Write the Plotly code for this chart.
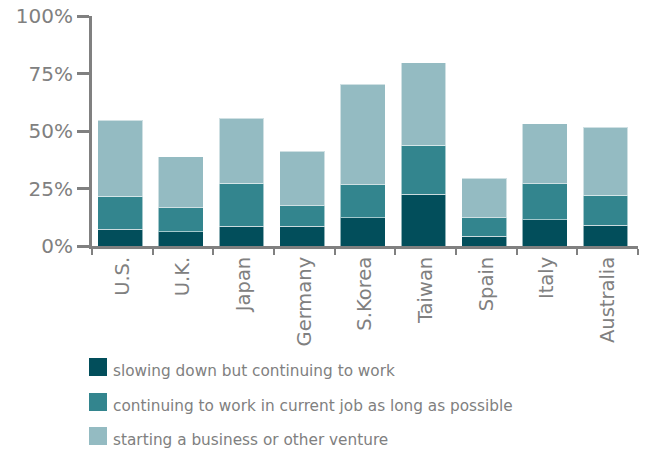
import plotly.graph_objects as go

# Survey results: how people plan to spend their retirement years
countries = ["U.S.", "U.K.", "Japan", "Germany", "S.Korea", "Taiwan", "Spain", "Italy", "Australia"]

slowing_down = [7.3, 6.1, 8.6, 8.6, 12.3, 22.5, 4.3, 11.5, 9.0]
current_job = [14.3, 10.6, 18.7, 8.8, 14.4, 21.4, 7.9, 15.6, 13.0]
new_venture = [33.0, 22.2, 28.2, 23.8, 43.6, 35.8, 17.2, 26.1, 29.6]

series_names = [
    "slowing down but continuing to work",
    "continuing to work in current job as long as possible",
    "starting a business or other venture",
]
series_values = [slowing_down, current_job, new_venture]
series_colors = ["#024e5b", "#33858e", "#94bbc2"]

y_ticks = [0, 25, 50, 75, 100]
y_tick_text = ["0%", "25%", "50%", "75%", "100%"]

W, H = 651, 453
M_L, M_R, M_T, M_B = 92, 13, 16, 207
FONT = "DejaVu Sans"
GREY = "#808080"

fig = go.Figure()
for name, vals, col in zip(series_names, series_values, series_colors):
    fig.add_trace(go.Bar(
        x=countries, y=vals, name=name, showlegend=False,
        width=0.74, offset=-0.405,
        marker=dict(color=col, line=dict(color="rgba(255,255,255,0.55)", width=1)),
    ))

# Hand-built legend below the plot (pixel positions converted to paper units)
plot_w = W - M_L - M_R
plot_h = H - M_T - M_B
def px(x):
    return (x - M_L) / plot_w
def py(y):
    return (H - M_B - y) / plot_h

shapes = []
annotations = []
legend_tops = [358, 393, 427]
for name, col, top in zip(series_names, series_colors, legend_tops):
    shapes.append(dict(type="rect", xref="paper", yref="paper",
                       x0=px(89), x1=px(107), y0=py(top), y1=py(top + 18),
                       fillcolor=col, line=dict(width=0)))
    annotations.append(dict(xref="paper", yref="paper", x=px(111), y=py(top + 13),
                            xanchor="left", yanchor="middle", showarrow=False,
                            text=name, font=dict(family=FONT, size=15.3, color=GREY)))

fig.update_layout(
    width=W, height=H,
    margin=dict(l=M_L, r=M_R, t=M_T, b=M_B),
    paper_bgcolor="white", plot_bgcolor="white",
    barmode="stack",
    font=dict(family=FONT, color=GREY),
    shapes=shapes, annotations=annotations,
    xaxis=dict(
        automargin=False,
        showline=True, linecolor=GREY, linewidth=3,
        ticks="outside", tickson="boundaries", ticklen=6, tickwidth=2, tickcolor=GREY,
        tickangle=-90, tickfont=dict(family=FONT, size=19.5, color=GREY),
        showgrid=False, zeroline=False,
    ),
    yaxis=dict(
        automargin=False,
        range=[0, 100], tickvals=y_ticks, ticktext=y_tick_text,
        showline=True, linecolor=GREY, linewidth=3,
        ticks="outside", ticklen=12, tickwidth=3, tickcolor=GREY,
        tickfont=dict(family=FONT, size=20, color=GREY),
        showgrid=False, zeroline=False,
    ),
)

fig.write_html("out.html")
